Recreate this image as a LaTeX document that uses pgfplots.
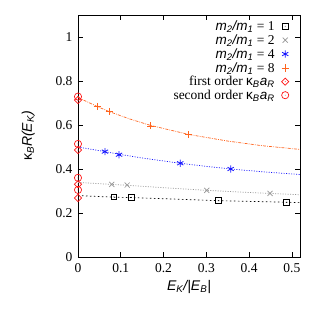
\documentclass[border=0pt]{standalone}
\usepackage{pgfplots}
\pgfplotsset{compat=1.18}
\usepackage{fontspec}
\setmainfont{Liberation Serif}
\newfontfamily\hv{Liberation Sans}
\definecolor{gporange}{RGB}{255,100,30}
\definecolor{gpblue}{RGB}{20,20,255}
\definecolor{gpgray}{RGB}{150,150,150}
\definecolor{gpred}{RGB}{255,20,20}
\makeatletter
\pgfdeclareplotmark{sqdot}{%
  \pgfpathrectangle{\pgfqpoint{-\pgfplotmarksize}{-\pgfplotmarksize}}{\pgfqpoint{2\pgfplotmarksize}{2\pgfplotmarksize}}%
  \pgfusepathqstroke
  \pgfpathcircle{\pgfpointorigin}{0.45pt}\pgfusepathqfill}
\pgfdeclareplotmark{diadot}{%
  \pgfpathmoveto{\pgfqpoint{0pt}{\pgfplotmarksize}}%
  \pgfpathlineto{\pgfqpoint{\pgfplotmarksize}{0pt}}%
  \pgfpathlineto{\pgfqpoint{0pt}{-\pgfplotmarksize}}%
  \pgfpathlineto{\pgfqpoint{-\pgfplotmarksize}{0pt}}%
  \pgfpathclose\pgfusepathqstroke
  \pgfpathcircle{\pgfpointorigin}{0.45pt}\pgfusepathqfill}
\pgfdeclareplotmark{circdot}{%
  \pgfpathcircle{\pgfpointorigin}{\pgfplotmarksize}\pgfusepathqstroke
  \pgfpathcircle{\pgfpointorigin}{0.45pt}\pgfusepathqfill}
\makeatother
\begin{document}
\begin{tikzpicture}
\begin{axis}[
  scale only axis, width=222pt, height=242pt,
  xmin=0, xmax=0.519, ymin=0, ymax=1.1,
  xtick={0,0.1,0.2,0.3,0.4,0.5}, ytick={0,0.2,0.4,0.6,0.8,1},
  /pgf/number format/assume math mode=true,
  tick label style={font=\fontsize{13.5}{15}\selectfont},
  xticklabel style={yshift=-3pt},
  yticklabel style={xshift=-2pt},
  tick align=inside, major tick length=5pt,
  axis line style={line width=0.8pt},
  every tick/.style={black, line width=0.6pt},
  label style={font=\fontsize{14}{16}\selectfont},
  xlabel={\hv\itshape E\textsubscript{K}/|E\textsubscript{B}|},
  ylabel={\hv κ\textsubscript{\itshape B}\itshape R(E\textsubscript{K})},
  xlabel style={yshift=-1pt},
  ylabel style={yshift=14pt},
  legend style={draw=none, fill=none, at={(0.955,0.99)}, anchor=north east,
    font=\fontsize{13.5}{12.8}\selectfont, row sep=-1.4pt, inner sep=1pt},
  legend cell align=right,
  legend plot pos=right,
]
% fit lines
\addplot[black, dash pattern=on 1.5pt off 2.5pt, line width=0.7pt, forget plot] coordinates {
(0,0.279) (0.084,0.272) (0.125,0.270) (0.2,0.265) (0.328,0.256) (0.42,0.252) (0.487,0.249) (0.519,0.247)};
\addplot[gpgray, dash pattern=on 1pt off 1.5pt, line width=0.7pt, forget plot] coordinates {
(0,0.339) (0.079,0.330) (0.115,0.326) (0.2,0.315) (0.301,0.303) (0.38,0.295) (0.449,0.289) (0.519,0.283)};
\addplot[gpblue, dash pattern=on 1pt off 1.5pt, line width=0.7pt, forget plot] coordinates {
(0,0.500) (0.063,0.479) (0.096,0.467) (0.15,0.450) (0.239,0.426) (0.3,0.412) (0.357,0.400) (0.44,0.386) (0.519,0.375)};
\addplot[gporange, dash pattern=on 3pt off 1.2pt on 0.8pt off 1.2pt, line width=0.7pt, forget plot] coordinates {
(0,0.725) (0.045,0.684) (0.073,0.661) (0.12,0.628) (0.17,0.598) (0.259,0.557) (0.35,0.527) (0.43,0.506) (0.519,0.489)};
% data points
\addplot[only marks, black, mark=sqdot, mark size=2.8pt, line width=0.7pt] coordinates {
(0.084,0.273) (0.125,0.271) (0.328,0.257) (0.487,0.248)};
\addlegendentry{{\hv\itshape m\textsubscript{2}/m\textsubscript{1}} = 1\kern5pt}
\addplot[only marks, gpgray, mark=x, mark size=3.6pt, line width=0.7pt] coordinates {
(0.079,0.330) (0.115,0.327) (0.301,0.303) (0.449,0.289)};
\addlegendentry{{\hv\itshape m\textsubscript{2}/m\textsubscript{1}} = 2\kern5pt}
\addplot[only marks, gpblue, mark=asterisk, mark size=3.6pt, line width=0.8pt] coordinates {
(0.063,0.479) (0.096,0.465) (0.239,0.426) (0.357,0.400)};
\addlegendentry{{\hv\itshape m\textsubscript{2}/m\textsubscript{1}} = 4\kern5pt}
\addplot[only marks, gporange, mark=+, mark size=3.6pt, line width=0.7pt] coordinates {
(0.045,0.684) (0.073,0.661) (0.170,0.596) (0.259,0.556)};
\addlegendentry{{\hv\itshape m\textsubscript{2}/m\textsubscript{1}} = 8\kern5pt}
\addplot[only marks, gpred, mark=diadot, mark size=3.6pt, line width=0.7pt] coordinates {
(0,0.268) (0,0.331) (0,0.486) (0,0.714)};
\addlegendentry{first order {\hv κ\textsubscript{\itshape B}\itshape a\textsubscript{R}}\kern5pt}
\addplot[only marks, gpred, mark=circdot, mark size=3.6pt, line width=0.7pt] coordinates {
(0,0.305) (0,0.360) (0,0.514) (0,0.729)};
\addlegendentry{second order {\hv κ\textsubscript{\itshape B}\itshape a\textsubscript{R}}\kern5pt}
\end{axis}
\path (current axis.south west) ++(-78pt,-52pt) coordinate (bl);
\path (current axis.north east) ++(14pt,15pt) coordinate (tr);
\useasboundingbox (bl) rectangle (tr);
\end{tikzpicture}
\end{document}
